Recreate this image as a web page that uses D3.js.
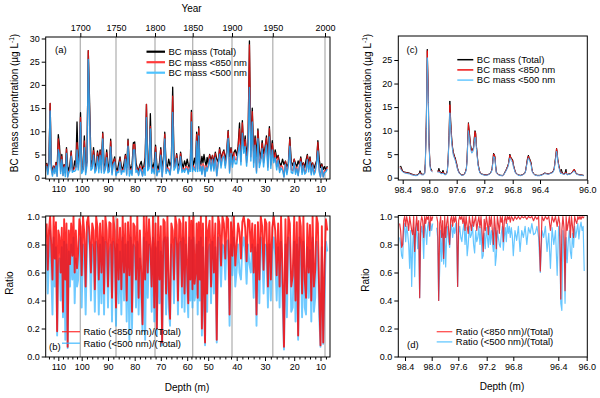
<!DOCTYPE html>
<html><head><meta charset="utf-8">
<script src="https://cdn.jsdelivr.net/npm/d3@7"></script>
<style>body{margin:0;background:#fff}svg{font-family:"Liberation Sans",Arial,sans-serif}</style>
</head><body><svg id="chart" width="600" height="398"></svg>
<script>
// ---------------- DATA ----------------
// Panels (a)/(b): samples every 0.5 m starting at 115 m depth
const depthStart = 115, depthStep = 0.5;
const bcTotal = [
3.2,1.5,4.0,16.0,3.0,1.2,2.5,1.8,3.3,2.0,9.3,7.0,2.2,5.0,1.6,2.8,1.9,6.5,2.4,1.5,
3.0,5.8,2.1,1.7,3.6,2.4,12.0,3.0,5.0,14.0,2.6,1.8,9.0,2.2,3.5,27.4,16.3,4.0,2.5,6.5,
3.2,2.0,5.8,3.6,6.0,2.8,9.8,3.1,2.2,6.0,3.0,1.8,8.3,2.5,3.4,4.5,2.0,1.6,3.0,4.5,
2.4,1.8,3.1,5.0,2.2,8.3,3.0,1.9,2.6,7.5,7.7,3.2,2.0,1.6,2.8,3.5,1.9,2.4,4.4,15.8,
3.6,2.5,13.8,3.0,2.2,3.4,7.0,2.7,1.8,3.3,6.5,2.4,3.8,9.8,3.0,2.2,4.0,2.6,3.5,19.5,
4.2,2.6,5.2,3.0,2.4,5.5,3.2,2.1,3.6,2.5,4.0,2.8,2.2,3.4,14.5,3.8,2.6,4.2,3.0,9.8,
4.5,11.0,3.6,2.8,4.6,3.2,5.0,3.5,2.6,4.4,3.0,5.0,3.8,4.8,3.2,5.5,4.0,3.4,6.5,4.2,
5.2,6.0,3.8,5.6,10.2,4.6,6.5,3.9,5.4,6.0,4.8,6.8,11.8,5.0,12.3,6.2,9.0,4.8,7.5,29.5,
6.0,15.0,5.4,9.0,4.6,10.5,5.8,4.2,8.0,5.2,6.4,9.0,4.6,11.0,5.0,8.0,3.8,6.0,4.2,4.8,
3.2,2.6,4.0,2.8,3.6,2.4,3.0,8.7,3.4,2.6,4.0,3.0,2.4,3.6,2.8,4.5,2.6,3.2,2.2,3.8,
5.0,3.0,4.5,2.4,3.2,2.0,2.8,3.6,8.0,4.0,2.2,3.0,1.8,2.4,1.6,2.5];
const ratio850 = [
0.95,0.62,0.9,1.0,0.78,0.55,1.0,0.7,0.96,0.18,0.9,0.85,0.6,0.92,0.32,0.98,0.55,0.95,0.07,0.9,
0.66,0.95,0.72,1.0,0.6,0.9,0.63,0.75,0.98,0.93,0.58,1.0,0.88,0.5,0.96,1.0,0.86,0.6,0.95,0.9,
0.48,1.0,0.92,0.55,0.95,0.6,0.97,0.45,1.0,0.9,0.5,0.96,0.95,0.42,1.0,0.9,0.35,0.98,0.55,0.92,
0.48,1.0,0.6,0.95,0.4,0.96,0.58,1.0,0.32,0.95,0.93,0.55,1.0,0.42,0.9,0.6,0.23,1.0,0.55,1.0,
0.6,0.98,0.8,0.5,1.0,0.35,0.95,0.2,1.0,0.55,0.93,0.1,0.98,0.96,0.45,1.0,0.5,0.27,0.95,0.9,
0.55,1.0,0.94,0.4,0.98,0.95,0.5,1.0,0.45,0.96,0.6,0.38,1.0,0.55,0.97,0.48,1.0,0.52,0.6,0.95,
0.42,0.96,0.55,1.0,0.2,0.95,0.5,0.1,1.0,0.45,0.9,0.97,0.5,1.0,0.6,0.95,0.12,1.0,0.94,0.65,
1.0,0.95,0.7,1.0,0.98,0.3,0.96,0.72,1.0,0.65,0.8,0.95,0.89,0.7,0.96,1.0,0.92,0.68,0.98,0.97,
0.75,0.95,0.6,0.94,0.3,0.96,0.55,1.0,0.93,0.62,0.98,0.95,0.5,0.96,0.55,0.92,1.0,0.9,0.58,0.95,
0.5,1.0,0.6,0.07,0.98,0.45,1.0,0.95,0.5,0.58,1.0,0.4,0.96,0.15,1.0,0.93,0.45,1.0,0.55,0.42,
0.95,0.6,0.94,0.4,1.0,0.5,0.62,1.0,0.95,0.45,0.08,0.93,0.1,0.65,0.98,0.9];
const ratio500 = [
0.8,0.45,0.72,0.9,0.6,0.3,0.85,0.5,0.78,0.15,0.65,0.7,0.4,0.78,0.28,0.82,0.12,0.8,0.06,0.75,
0.5,0.8,0.55,0.85,0.38,0.7,0.5,0.55,0.82,0.85,0.35,0.8,0.72,0.3,0.75,0.93,0.8,0.4,0.8,0.75,
0.32,0.82,0.78,0.3,0.8,0.38,0.85,0.3,0.82,0.72,0.35,0.75,0.8,0.25,0.82,0.75,0.22,0.8,0.38,0.75,
0.3,0.85,0.4,0.8,0.25,0.82,0.12,0.85,0.2,0.8,0.78,0.35,0.82,0.3,0.7,0.4,0.18,0.85,0.12,0.82,
0.42,0.8,0.76,0.32,0.85,0.25,0.78,0.15,0.82,0.38,0.75,0.08,0.82,0.85,0.3,0.85,0.35,0.22,0.8,0.72,
0.38,0.85,0.8,0.3,0.8,0.82,0.35,0.85,0.32,0.8,0.45,0.28,0.85,0.4,0.83,0.35,0.85,0.4,0.45,0.8,
0.3,0.82,0.4,0.85,0.15,0.78,0.35,0.08,0.85,0.32,0.75,0.8,0.38,0.82,0.45,0.78,0.1,0.85,0.78,0.5,
0.8,0.78,0.55,0.82,0.83,0.22,0.8,0.58,0.85,0.5,0.62,0.8,0.6,0.55,0.78,0.85,0.75,0.52,0.8,0.66,
0.6,0.8,0.42,0.78,0.22,0.8,0.38,0.85,0.78,0.45,0.8,0.78,0.35,0.8,0.4,0.75,0.85,0.72,0.4,0.78,
0.35,0.82,0.4,0.05,0.8,0.28,0.85,0.78,0.32,0.35,0.82,0.25,0.8,0.12,0.85,0.75,0.28,0.82,0.35,0.3,
0.78,0.42,0.76,0.25,0.85,0.32,0.42,0.82,0.72,0.3,0.07,0.78,0.09,0.45,0.82,0.75];
const depthTicks = [110,100,90,80,70,60,50,40,30,20,10];
const yearTicks = [1700,1750,1800,1850,1900,1950,2000];
const concTicks = [0,5,10,15,20,25,30];
const ratioTicks = [0,0.2,0.4,0.6,0.8,1.0];

// Panel (c)
const cDepth = [98.44,98.43,98.40,98.37,98.34,98.30,98.265,98.23,98.20,98.17,
98.15,98.14,98.12,98.09,98.07,98.06,98.045,98.03,98.015,98.005,
97.99,97.98,97.965,97.956,97.92,97.88,97.87,97.86,97.845,97.83,
97.815,97.80,97.785,97.77,97.75,97.737,97.725,97.712,97.70,97.69,
97.68,97.67,97.66,97.65,97.64,97.63,97.62,97.61,97.60,97.59,
97.576,97.56,97.55,97.53,97.51,97.49,97.475,97.46,97.45,97.44,
97.43,97.415,97.40,97.39,97.38,97.37,97.355,97.345,97.335,97.325,
97.315,97.30,97.29,97.275,97.26,97.24,97.215,97.19,97.17,97.145,
97.12,97.10,97.09,97.08,97.07,97.06,97.05,97.04,97.03,97.01,
96.99,96.965,96.94,96.925,96.91,96.895,96.885,96.87,96.86,96.85,
96.84,96.83,96.82,96.81,96.80,96.79,96.776,96.76,96.74,96.715,
96.69,96.665,96.64,96.62,96.61,96.60,96.585,96.57,96.56,96.55,
96.54,96.53,96.52,96.51,96.49,96.47,96.44,96.42,96.40,96.38,
96.36,96.345,96.33,96.31,96.29,96.28,96.275,96.265,96.26,96.255,
96.25,96.24,96.23,96.225,96.22,96.21,96.20,96.19,96.18,96.175,
96.17,96.155,96.14,96.125,96.11,96.10,96.09,96.075,96.055,96.04,
96.03];
const cTotal = [2.3,2.5,1.4,1.2,1.1,1.0,0.8,0.6,0.5,0.7,
1.0,1.5,0.8,0.7,1.0,3.0,12.0,27.3,18.0,8.0,
3.0,2.0,1.6,1.5,null,1.5,1.3,2.0,1.2,1.2,
1.0,1.6,0.9,0.7,0.9,1.5,4.0,9.0,16.3,13.0,
10.0,8.0,6.5,5.5,5.0,4.5,4.2,3.5,3.0,2.2,
1.5,1.0,0.8,0.6,0.6,0.8,1.2,2.0,4.0,8.0,
11.7,9.5,7.0,6.2,5.8,6.0,6.5,8.5,10.0,9.5,
7.0,4.5,3.0,1.8,1.0,0.8,0.7,0.6,0.6,0.7,
0.9,1.4,2.0,3.5,5.2,5.0,4.5,2.5,1.2,0.8,
0.6,0.5,0.5,0.7,1.2,1.6,2.0,2.5,3.0,4.0,
5.0,4.5,4.2,4.0,3.8,2.8,2.0,1.2,0.8,0.6,
0.5,0.6,0.8,1.0,1.6,2.5,4.0,4.8,4.3,4.0,
3.6,3.2,2.0,1.3,0.8,0.6,0.5,0.5,0.5,0.7,
1.0,0.9,0.8,1.0,1.3,2.0,3.0,5.0,6.3,5.5,
4.0,2.5,1.5,1.0,1.8,1.0,0.8,0.9,1.8,0.9,
0.7,0.8,0.9,1.3,1.8,1.2,0.8,0.7,0.6,0.55,
0.5];
const c850 = [2.2,2.0,1.3,1.1,1.0,0.9,0.7,0.55,0.45,0.6,
0.9,1.1,0.7,0.65,0.9,2.8,11.5,27.0,17.5,7.5,
2.8,1.8,1.4,1.4,null,1.3,1.2,1.5,1.1,1.0,
0.9,1.2,0.8,0.65,0.8,1.4,3.8,8.5,15.5,12.0,
9.5,7.5,6.2,5.2,4.8,4.2,4.0,3.3,2.8,2.0,
1.4,0.9,0.75,0.55,0.55,0.7,1.1,1.9,3.8,7.8,
11.5,9.2,6.8,6.0,5.6,5.8,6.4,8.3,9.8,9.3,
6.8,4.3,2.8,1.7,0.95,0.75,0.65,0.55,0.55,0.65,
0.85,1.3,1.9,3.4,5.0,4.9,4.3,2.4,1.1,0.75,
0.55,0.45,0.45,0.65,1.1,1.5,1.9,2.4,2.9,3.8,
4.8,4.4,4.0,3.8,3.6,2.6,1.9,1.1,0.75,0.55,
0.45,0.55,0.75,0.95,1.5,2.4,3.8,4.6,4.1,3.8,
3.4,3.0,1.9,1.2,0.75,0.55,0.45,0.45,0.45,0.65,
0.95,0.85,0.75,0.95,1.2,1.9,2.9,4.9,6.2,5.4,
3.9,2.4,1.4,0.9,1.2,0.9,0.75,0.8,1.2,0.8,
0.65,0.75,0.85,1.3,1.8,1.1,0.75,0.65,0.55,0.5,
0.45];
const c500 = [2.0,1.8,1.2,1.0,0.9,0.8,0.6,0.5,0.4,0.55,
0.8,0.9,0.6,0.6,0.8,2.5,10.5,25.5,16.0,7.0,
2.5,1.6,1.3,1.2,null,1.2,1.1,1.3,1.0,0.9,
0.8,1.0,0.7,0.6,0.7,1.2,3.5,8.0,13.8,11.0,
8.8,7.0,5.8,4.8,4.4,4.0,3.6,3.0,2.6,1.8,
1.3,0.85,0.7,0.5,0.5,0.65,1.0,1.7,3.5,7.0,
10.0,8.2,6.2,5.6,5.2,5.4,6.0,7.5,8.6,8.5,
6.2,4.0,2.6,1.5,0.9,0.7,0.6,0.5,0.5,0.6,
0.8,1.2,1.7,3.0,4.5,4.4,3.9,2.2,1.0,0.7,
0.5,0.42,0.42,0.6,1.0,1.4,1.7,2.2,2.6,3.5,
4.2,4.0,3.6,3.4,3.2,2.3,1.7,1.0,0.7,0.5,
0.42,0.5,0.7,0.9,1.4,2.2,3.4,4.2,3.8,3.5,
3.1,2.7,1.7,1.1,0.7,0.5,0.42,0.42,0.42,0.6,
0.85,0.8,0.7,0.9,1.1,1.7,2.6,4.4,5.6,4.9,
3.5,2.1,1.2,0.8,1.0,0.8,0.7,0.7,1.0,0.7,
0.6,0.7,0.8,1.1,1.4,1.0,0.7,0.6,0.5,0.45,
0.42];
const cYTicks = [0,5,10,15,20,25];
const zoomDepthTicks = [98.4,98.0,97.6,97.2,96.8,96.4,96.0];

// Panel (d): samples every 0.015 m from 98.48 m
const dStart = 98.48, dStep = 0.015;
const dRatio850 = [
0.95,0.9,0.78,0.8,0.97,1.0,0.93,1.0,0.96,0.9,
1.0,0.95,0.9,0.87,1.0,0.75,0.92,1.0,0.9,0.97,
0.42,0.95,1.0,0.97,0.85,1.0,0.95,1.0,0.98,1.0,
0.9,1.0,0.97,1.0,null,null,null,1.0,0.96,0.40,
0.95,1.0,0.85,0.97,0.7,1.0,0.85,0.95,1.0,0.9,
0.8,0.98,1.0,0.93,1.0,0.96,1.0,0.95,0.5,0.97,
1.0,0.98,1.0,0.95,1.0,0.9,1.0,0.93,0.88,1.0,
0.95,0.9,1.0,0.93,0.97,1.0,0.9,0.96,1.0,0.92,
1.0,0.88,0.75,0.98,0.9,1.0,0.95,0.87,1.0,0.93,
1.0,0.9,0.8,1.0,0.92,0.77,1.0,0.95,0.88,1.0,
0.96,1.0,0.82,0.97,1.0,0.95,1.0,0.98,1.0,0.96,
1.0,0.99,0.97,1.0,0.98,1.0,0.98,1.0,0.99,1.0,
0.98,1.0,0.99,1.0,0.97,1.0,0.98,1.0,0.61,1.0,
0.97,1.0,0.98,1.0,0.9,1.0,0.96,1.0,0.93,1.0,
0.95,0.41,0.9,1.0,0.92,0.47,1.0,0.9,0.95,1.0,
0.85,1.0,0.93,0.85,1.0,0.97,0.95,1.0,0.98,1.0,
0.98,1.0,0.99,1.0];
const dRatio500 = [
0.85,0.8,0.72,0.7,0.9,0.95,0.82,0.93,0.88,0.8,
0.63,0.9,0.5,0.8,0.92,0.57,0.85,0.95,0.77,0.88,
0.42,0.85,0.93,0.88,0.7,0.95,0.9,0.8,0.93,0.96,
0.86,0.95,0.9,0.95,null,null,null,0.92,0.85,0.4,
0.62,0.9,0.68,0.88,0.66,0.92,0.64,0.85,0.93,0.82,
0.78,0.9,0.94,0.85,0.92,0.88,0.95,0.86,0.5,0.88,
0.93,0.85,0.82,0.9,0.95,0.8,0.92,0.72,0.8,0.93,
0.85,0.87,0.94,0.8,0.74,0.9,0.82,0.85,0.93,0.8,
0.92,0.7,0.72,0.88,0.77,0.92,0.85,0.78,0.93,0.8,
0.9,0.82,0.75,0.92,0.65,0.72,0.9,0.85,0.8,0.78,
0.88,0.93,0.76,0.86,0.92,0.82,0.95,0.88,0.93,0.85,
0.92,0.86,0.72,0.9,0.83,0.93,0.75,0.9,0.85,0.93,
0.8,0.92,0.88,0.95,0.87,0.88,0.93,0.85,0.6,0.9,
0.85,0.93,0.75,0.88,0.63,0.92,0.8,0.9,0.58,0.93,
0.86,0.38,0.33,0.9,0.8,0.38,0.85,0.67,0.82,0.9,
0.75,0.7,0.88,0.78,0.93,0.85,0.9,0.95,0.84,0.92,
0.96,0.9,0.93,0.61];

// ---------------- DRAWING ----------------
const svg = d3.select("#chart");
const FS = 9;
const RED = "#ff1a1a", BLUE = "#1ea4f2";

const A = {l:45.7, r:330, t:37, b:179};
const B = {l:45.7, r:330, t:216, b:357};
const C = {l:398.3, r:587.3, t:36, b:180};
const D = {l:398.3, r:587.3, t:215.5, b:357};

const xDepth = d3.scaleLinear()
  .domain([115.4,110,100,90,80,70,60,50,40,30,20,10,6.5])
  .range([45.7,58.3,81.7,108,134.7,160.8,187.2,208.2,236.7,265,294.2,320.5,330]);
const xYear = d3.scaleLinear().domain(yearTicks).range([80.3,116,155,192.7,232,272.8,325]);
const yA = d3.scaleLinear().domain([-0.28,30.32]).range([A.b, A.t]);
const yB = d3.scaleLinear().domain([0,1]).range([356.5,216.5]);
const xC = d3.scaleLinear().domain([98.466,98.4,98.0,97.6,97.2,96.8,96.4,96.0])
  .range([398.3,402.7,429.3,456.7,484.3,512.7,540,587.3]);
const yC = d3.scaleLinear().domain([-0.49,30.1]).range([C.b, C.t]);
const xD = d3.scaleLinear().domain([98.5,98.4,98.0,97.6,97.2,96.8,96.4,96.0,95.99])
  .range([398.3,405,431.7,458.3,486.7,513.3,558.3,586.7,587.3]);
const yD = yB;

const defs = svg.append("defs");
function clip(id, P){
  defs.append("clipPath").attr("id", id).append("rect")
    .attr("x", P.l).attr("y", P.t).attr("width", P.r-P.l).attr("height", P.b-P.t);
}
clip("ca", A); clip("cb", B); clip("cc", C); clip("cd", D);

// build records
const n = Math.min(bcTotal.length, ratio850.length, ratio500.length);
const abData = [];
for (let i = 0; i < n; i++) {
  abData.push({depth: depthStart - i*depthStep, tot: bcTotal[i],
    r850: ratio850[i], r500: ratio500[i],
    m850: bcTotal[i]*ratio850[i], m500: bcTotal[i]*ratio500[i]});
}
const cData = cDepth.map((d,i)=>({depth:d, tot:cTotal[i], m850:c850[i], m500:c500[i]}));
const dData = dRatio850.map((v,i)=>({depth: dStart - i*dStep, r850: v, r500: dRatio500[i]}));

function drawLine(g, data, x, y, key, color, w, op){
  g.append("path").datum(data)
    .attr("fill","none").attr("stroke",color).attr("stroke-width",w)
    .attr("stroke-opacity",op).attr("stroke-linejoin","round")
    .attr("d", d3.line().defined(d=>d[key]!=null).x(d=>x(d.depth)).y(d=>y(d[key])));
}
function styleAxis(g){
  g.select(".domain").remove();
  g.selectAll("text").attr("font-size",FS).attr("fill","#000")
    .attr("font-family","Liberation Sans, Arial, sans-serif");
  g.selectAll("line").attr("stroke","#000");
}
function frame(P){
  svg.append("rect").attr("x",P.l).attr("y",P.t).attr("width",P.r-P.l).attr("height",P.b-P.t)
    .attr("fill","none").attr("stroke","#000").attr("stroke-width",1);
}
function text(x,y,s,opt={}){
  return svg.append("text").attr("x",x).attr("y",y).attr("font-size",opt.fs||10)
    .attr("text-anchor",opt.anchor||"start").attr("fill","#000").text(s);
}
function yTitleConc(x, yc){
  const t = svg.append("text").attr("transform",`translate(${x},${yc}) rotate(-90)`)
    .attr("text-anchor","middle").attr("font-size",10).attr("fill","#000");
  t.append("tspan").text("BC mass concentration (\u00b5g L");
  t.append("tspan").attr("font-size",6.5).attr("dy",-4).text("-1");
  t.append("tspan").attr("dy",4).text(")");
}
function legend(x0, x1, y0, dy, items, w){
  items.forEach((it,k)=>{
    const y = y0 + k*dy;
    svg.append("line").attr("x1",x0).attr("x2",x1).attr("y1",y).attr("y2",y)
      .attr("stroke",it.c).attr("stroke-width",w).attr("stroke-opacity",it.o||1);
    text(x1+3.5, y+3.3, it.t, {fs:9.5});
  });
}
const minorDepth = d3.range(8,116,2).filter(v=>v%10!==0);

// ---------- Panel (a) ----------
const gA = svg.append("g").attr("clip-path","url(#ca)");
yearTicks.forEach(yr=>{
  gA.append("line").attr("x1",xYear(yr)).attr("x2",xYear(yr)).attr("y1",A.t).attr("y2",A.b)
    .attr("stroke","#b4b4b4").attr("stroke-width",1.3);
});
drawLine(gA, abData, xDepth, yA, "tot", "#000", 1.3, 1);
drawLine(gA, abData, xDepth, yA, "m850", RED, 1.3, 0.8);
drawLine(gA, abData, xDepth, yA, "m500", BLUE, 1.4, 0.9);
frame(A);
styleAxis(svg.append("g").attr("transform",`translate(${A.l},0)`)
  .call(d3.axisLeft(yA).tickValues(concTicks).tickSize(4).tickPadding(2).tickFormat(d3.format("d"))));
styleAxis(svg.append("g").attr("transform",`translate(0,${A.b})`)
  .call(d3.axisBottom(xDepth).tickValues(depthTicks).tickSize(4).tickPadding(3).tickFormat(d3.format("d"))));
styleAxis(svg.append("g").attr("transform",`translate(0,${A.b})`)
  .call(d3.axisBottom(xDepth).tickValues(minorDepth).tickSize(2.5).tickFormat("")));
styleAxis(svg.append("g").attr("transform",`translate(0,${A.t})`)
  .call(d3.axisTop(xYear).tickValues(yearTicks).tickSize(4).tickPadding(2).tickFormat(d3.format("d"))));
text(191.5, 12, "Year", {anchor:"middle"});
yTitleConc(18, 103);
text(55, 52.5, "(a)", {fs:9.5});
legend(146.5, 165, 51.7, 10.5, [
  {c:"#000", t:"BC mass (Total)"},
  {c:"#ff3b3b", t:"BC mass <850 nm"},
  {c:"#4fc3ff", t:"BC mass <500 nm"}], 2.2);

// ---------- Panel (b) ----------
const gB = svg.append("g").attr("clip-path","url(#cb)");
yearTicks.forEach(yr=>{
  gB.append("line").attr("x1",xYear(yr)).attr("x2",xYear(yr)).attr("y1",B.t).attr("y2",B.b)
    .attr("stroke","#b4b4b4").attr("stroke-width",1.3);
});
drawLine(gB, abData, xDepth, yB, "r500", "#33b4ff", 1.9, 0.7);
drawLine(gB, abData, xDepth, yB, "r850", "#ff0000", 1.9, 0.82);
frame(B);
styleAxis(svg.append("g").attr("transform",`translate(${B.l},0)`)
  .call(d3.axisLeft(yB).tickValues(ratioTicks).tickSize(4).tickPadding(2).tickFormat(d3.format(".1f"))));
styleAxis(svg.append("g").attr("transform",`translate(0,${B.b})`)
  .call(d3.axisBottom(xDepth).tickValues(depthTicks).tickSize(4).tickPadding(3).tickFormat(d3.format("d"))));
styleAxis(svg.append("g").attr("transform",`translate(0,${B.b})`)
  .call(d3.axisBottom(xDepth).tickValues(minorDepth).tickSize(2.5).tickFormat("")));
styleAxis(svg.append("g").attr("transform",`translate(0,${B.t})`)
  .call(d3.axisTop(xYear).tickValues(yearTicks).tickSize(4).tickFormat("")));
text(187, 391, "Depth (m)", {anchor:"middle"});
svg.append("text").attr("transform","translate(13,283) rotate(-90)").attr("text-anchor","middle")
  .attr("font-size",10).text("Ratio");
text(49, 349.5, "(b)", {fs:9.5});
legend(62, 80, 331.7, 11.5, [
  {c:"#ff2020", t:"Ratio (<850 nm)/(Total)", o:0.85},
  {c:"#33b4ff", t:"Ratio (<500 nm)/(Total)", o:0.85}], 1.3);

// ---------- Panel (c) ----------
const gC = svg.append("g").attr("clip-path","url(#cc)");
drawLine(gC, cData, xC, yC, "tot", "#000", 1, 1);
drawLine(gC, cData, xC, yC, "m850", "#ee1111", 1, 1);
drawLine(gC, cData, xC, yC, "m500", "#4aaef0", 1, 1);
frame(C);
styleAxis(svg.append("g").attr("transform",`translate(${C.l},0)`)
  .call(d3.axisLeft(yC).tickValues(cYTicks).tickSize(4).tickPadding(2).tickFormat(d3.format("d"))));
styleAxis(svg.append("g").attr("transform",`translate(0,${C.b})`)
  .call(d3.axisBottom(xC).tickValues(zoomDepthTicks).tickSize(4).tickPadding(3).tickFormat(d3.format(".1f"))));
yTitleConc(370.5, 103);
text(406.5, 52.5, "(c)", {fs:9.5});
legend(457.3, 473.3, 59.7, 10.2, [
  {c:"#000", t:"BC mass (Total)"},
  {c:"#ee1111", t:"BC mass <850 nm"},
  {c:"#66c8ff", t:"BC mass <500 nm"}], 1.5);

// ---------- Panel (d) ----------
const gD = svg.append("g").attr("clip-path","url(#cd)");
drawLine(gD, dData, xD, yD, "r500", "#55c0ff", 1.2, 0.9);
drawLine(gD, dData, xD, yD, "r850", "#e8141c", 1.2, 0.85);
frame(D);
styleAxis(svg.append("g").attr("transform",`translate(${D.l},0)`)
  .call(d3.axisLeft(yD).tickValues(ratioTicks).tickSize(4).tickPadding(2).tickFormat(d3.format(".1f"))));
styleAxis(svg.append("g").attr("transform",`translate(0,${D.b})`)
  .call(d3.axisBottom(xD).tickValues(zoomDepthTicks).tickSize(4).tickPadding(3).tickFormat(d3.format(".1f"))));
text(502, 390, "Depth (m)", {anchor:"middle"});
svg.append("text").attr("transform","translate(369,280) rotate(-90)").attr("text-anchor","middle")
  .attr("font-size",10).text("Ratio");
text(407, 347.5, "(d)", {fs:9.5});
legend(436.7, 452.3, 331.7, 10.2, [
  {c:"#ff3030", t:"Ratio (<850 nm)/(Total)", o:0.85},
  {c:"#66c8ff", t:"Ratio (<500 nm)/(Total)"}], 1.3);
</script></body></html>
